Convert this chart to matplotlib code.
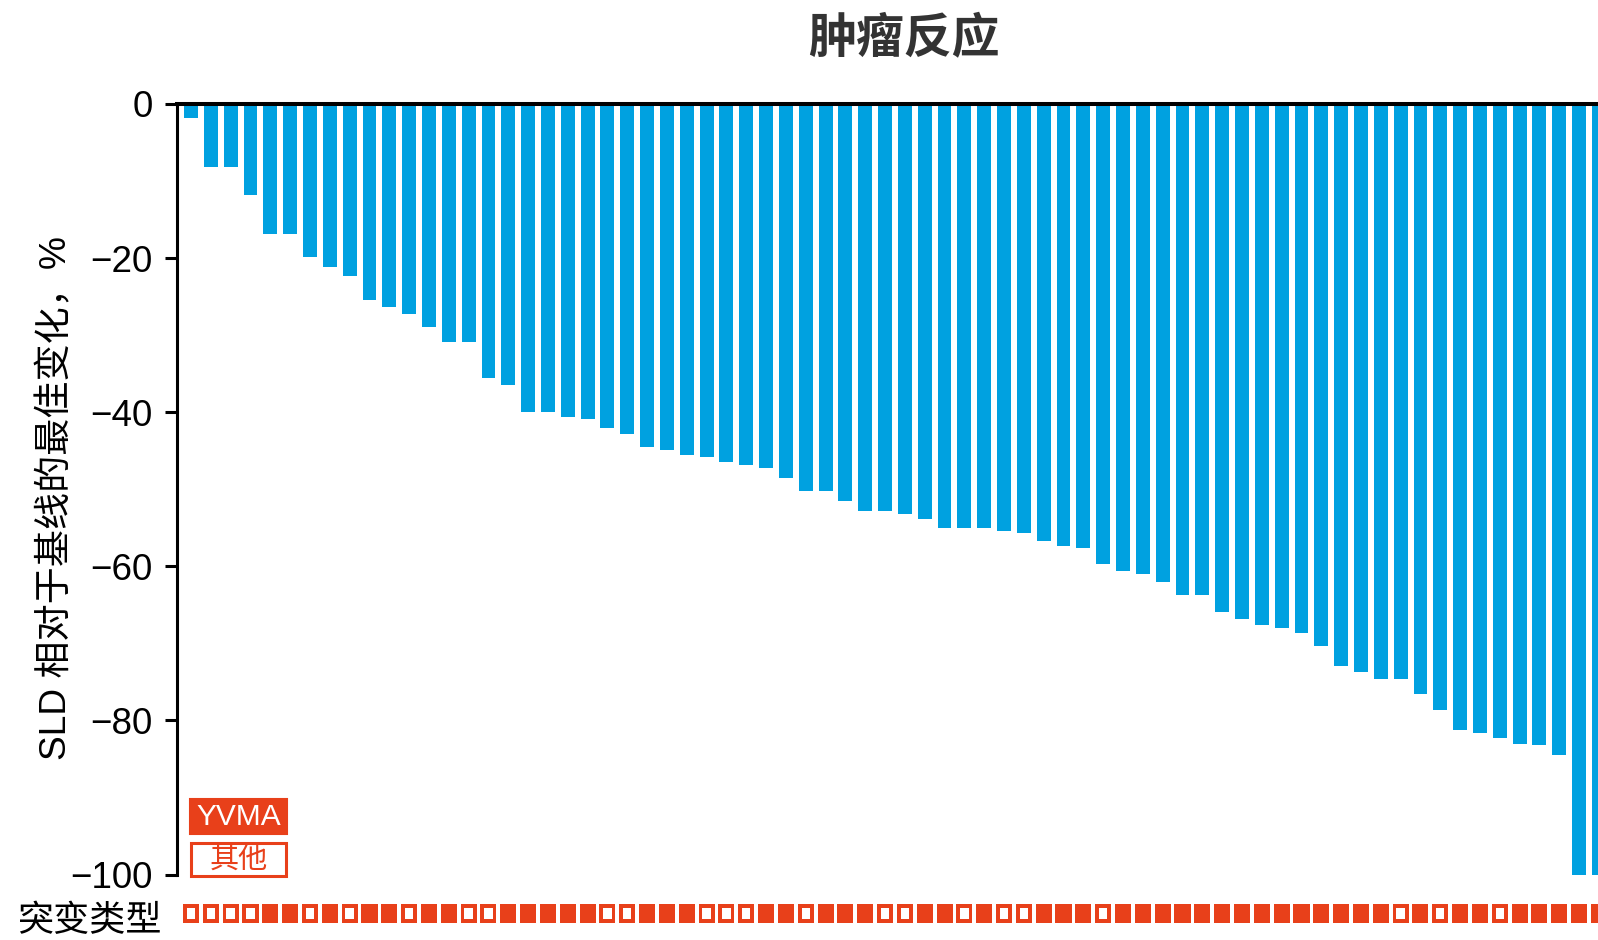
import matplotlib
matplotlib.use('Agg')
import matplotlib.pyplot as plt
from matplotlib.patches import Rectangle

plt.rcParams['font.family'] = ['Liberation Sans', 'Noto Sans CJK SC', 'DejaVu Sans']

# best change in SLD from baseline, % (one bar per patient, sorted)
sld_change = [-1.8, -8.2, -8.2, -11.8, -16.9, -16.9, -19.9, -21.1, -22.3, -25.4,
              -26.4, -27.3, -28.9, -30.9, -30.9, -35.5, -36.5, -40.0, -40.0, -40.6,
              -40.9, -42.0, -42.8, -44.5, -44.9, -45.6, -45.8, -46.4, -46.8, -47.3,
              -48.5, -50.2, -50.2, -51.5, -52.8, -52.8, -53.2, -53.9, -55.0, -55.0,
              -55.0, -55.4, -55.7, -56.7, -57.3, -57.6, -59.7, -60.6, -61.0, -62.0,
              -63.7, -63.7, -65.9, -66.8, -67.6, -68.0, -68.7, -70.3, -72.9, -73.7,
              -74.6, -74.6, -76.5, -78.7, -81.2, -81.6, -82.3, -83.0, -83.2, -84.5,
              -100.0, -100.0]

# mutation type per patient: 1 = YVMA, 0 = 其他
is_yvma = [0, 0, 0, 0, 1, 1, 0, 1, 0, 1,
           1, 0, 1, 1, 0, 0, 1, 1, 1, 1,
           1, 0, 0, 1, 1, 1, 0, 0, 0, 1,
           1, 0, 1, 1, 1, 0, 0, 1, 1, 0,
           1, 0, 0, 1, 1, 1, 0, 1, 1, 1,
           1, 1, 1, 1, 1, 1, 1, 1, 1, 1,
           1, 0, 1, 0, 1, 1, 0, 1, 1, 1,
           1, 1]

mutation_labels = ['YVMA', '其他']
y_ticks = [0, -20, -40, -60, -80, -100]

blue = '#00A1E0'
orange = '#E8401A'

W, H = 1598, 940
fig = plt.figure(figsize=(W / 100, H / 100), dpi=100)

# main bar axes (runs past the right edge like the original)
x_lo, x_hi = -0.706, 72.0
left_px, top_px, bot_px = 177, 104, 874.6
ax_w = (x_hi - x_lo) * 19.83 / W
ax = fig.add_axes([left_px / W, 1 - bot_px / H, ax_w, (bot_px - top_px) / H])

x = list(range(len(sld_change)))
ax.bar(x, sld_change, width=0.7, color=blue, zorder=1)

ax.set_xlim(x_lo, x_hi)
ax.set_ylim(-100, 0)
ax.set_yticks(y_ticks)
ax.set_xticks([])
ax.spines['bottom'].set_visible(False)
ax.spines['right'].set_visible(False)
ax.spines['left'].set_linewidth(2.2)
ax.spines['top'].set_linewidth(2.9)
ax.spines['top'].set_zorder(3)
ax.tick_params(axis='y', direction='out', length=8.6, width=2.2, pad=9, labelsize=26.5)

# mutation type row
ax2 = fig.add_axes([left_px / W, 1 - 923 / H, ax_w, 19 / H], sharex=ax)
ax2.bar(x, [1] * len(x), width=0.81, bottom=0, color=orange)
hollow = [i for i, v in zip(x, is_yvma) if v == 0]
ax2.bar(hollow, [0.6] * len(hollow), width=0.42, bottom=0.2, color='white')
ax2.set_ylim(0, 1)
ax2.axis('off')

# legend boxes
fig.add_artist(Rectangle((190 / W, 1 - 834 / H), 97 / W, 35 / H, transform=fig.transFigure,
                         facecolor=orange, edgecolor=orange, linewidth=1.5))
fig.add_artist(Rectangle((191 / W, 1 - 876 / H), 95 / W, 33 / H, transform=fig.transFigure,
                         facecolor='white', edgecolor=orange, linewidth=2.2))
fig.text(238.5 / W, 1 - 817 / H, mutation_labels[0], color='white', fontsize=21.5,
         ha='center', va='center')
fig.text(238.5 / W, 1 - 860 / H, mutation_labels[1], color=orange, fontsize=21,
         ha='center', va='center', family=['Noto Sans CJK SC'], weight='light')

fig.text(89 / W, 1 - 921 / H, '突变类型', fontsize=26, ha='center', va='center',
         family=['Noto Sans CJK SC'], weight='light')

fig.text(904 / W, 1 - 39 / H, '肿瘤反应', fontsize=34.5, ha='center', va='center',
         family=['Noto Sans CJK SC'], weight='bold', color='#333333')

fig.text(57 / W, 1 - 498 / H, 'SLD 相对于基线的最佳变化，%', fontsize=26.7, rotation=90,
         ha='center', va='center')

fig.savefig('out.png', dpi=100)
